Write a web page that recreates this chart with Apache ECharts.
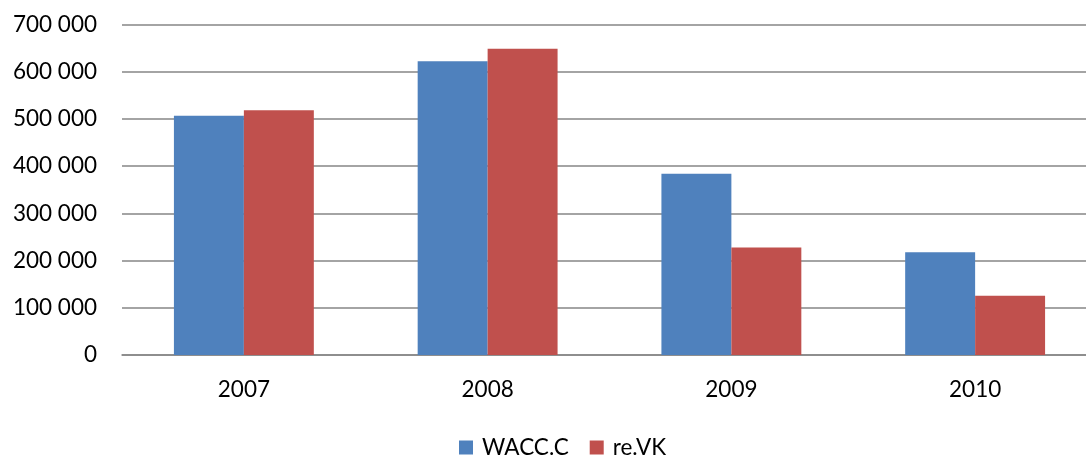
<!DOCTYPE html>
<html><head><meta charset="utf-8">
<script src="https://cdn.jsdelivr.net/npm/echarts@6/dist/echarts.min.js"></script>
<style>html,body{margin:0;padding:0;background:#fff}#c{width:1086px;height:455px}</style>
</head><body><div id="c"></div>
<script>
const categories = ['2007', '2008', '2009', '2010'];
const waccC = [506500, 622000, 384000, 217500];
const reVK = [518500, 648500, 227500, 125500];
const seriesNames = ['WACC.C', 're.VK'];

const font = 'Lato, "Open Sans", sans-serif';
const chart = echarts.init(document.getElementById('c'));
chart.setOption({
  animation: false,
  textStyle: { fontFamily: font },
  grid: { left: 122, width: 975, top: 24.5, bottom: 100, outerBoundsMode: 'none', containLabel: false },
  legend: {
    data: seriesNames, top: 431, left: 454, itemWidth: 14, itemHeight: 14, itemGap: 21,
    textStyle: { fontSize: 22.5, color: '#000', fontFamily: font, padding: [0, 0, 0, 4] }, icon: 'rect'
  },
  xAxis: {
    type: 'category', data: categories,
    axisLine: { lineStyle: { color: '#868686', width: 1.5 } },
    axisTick: { show: false },
    axisLabel: { fontSize: 22.5, color: '#000', margin: 23, fontFamily: font }
  },
  yAxis: {
    type: 'value', min: 0, max: 700000, interval: 100000,
    axisLine: { show: false }, axisTick: { show: false },
    splitLine: { lineStyle: { color: '#868686', width: 1.5 } },
    axisLabel: {
      fontSize: 22.5, color: '#000', margin: 25, fontFamily: font,
      formatter: v => String(v).replace(/\B(?=(\d{3})+(?!\d))/g, ' ')
    }
  },
  series: [
    { name: seriesNames[0], type: 'bar', data: waccC, barGap: '0%', barCategoryGap: '42.6%',
      itemStyle: { color: '#4F81BD' } },
    { name: seriesNames[1], type: 'bar', data: reVK,
      itemStyle: { color: '#C0504D' } }
  ]
});
</script></body></html>
